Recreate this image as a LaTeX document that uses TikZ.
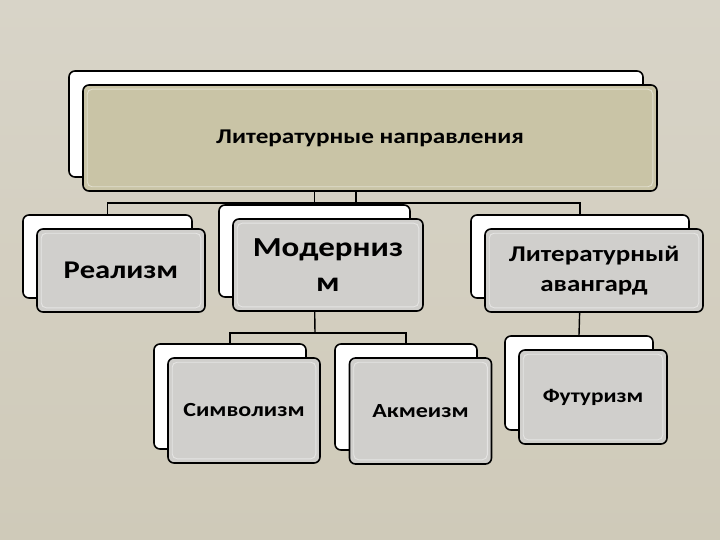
\documentclass[tikz,border=0pt]{standalone}
\usepackage{fontspec}
\usetikzlibrary{calc}
\newfontfamily\boxfont[FakeStretch=1.2]{Carlito}
\definecolor{bgtop}{HTML}{D8D4C8}
\definecolor{bgbot}{HTML}{CFCAB9}
\definecolor{topfill}{HTML}{C9C4A6}
\definecolor{boxfill}{HTML}{D0CFCC}
\tikzset{
  backbox/.style={draw=black, line width=1.6pt, fill=white, rounded corners=6pt, inner sep=0pt},
  frontbox/.style={draw=black, line width=1.6pt, fill=boxfill, rounded corners=6pt, inner sep=0pt,
    align=center, font=\boxfont\bfseries},
  topbox/.style={frontbox, fill=topfill},
  conn/.style={draw=black, line width=1.4pt},
  glow/.style={draw=white, draw opacity=0.45, line width=0.9pt, rounded corners=5pt},
  sz/.style 2 args={minimum width=#1, minimum height=#2}
}
\begin{document}
\begin{tikzpicture}[x=1pt,y=-1pt]
\shade[top color=bgtop, bottom color=bgbot] (0,0) rectangle (720,540);
\useasboundingbox (0,0) rectangle (720,540);
% back layer
\node[backbox, sz={574pt}{106pt}] (tb) at (356,124) {};
\node[backbox, sz={169pt}{83pt}] (rb) at (107.5,256.5) {};
\node[backbox, sz={191pt}{92pt}] (mb) at (314.5,251) {};
\node[backbox, sz={218pt}{83pt}] (ab) at (580,256.5) {};
\node[backbox, sz={152pt}{105pt}] (sb) at (230,396.5) {};
\node[backbox, sz={142pt}{106pt}] (kb) at (406,397) {};
\node[backbox, sz={148pt}{94pt}] (fb) at (579,383) {};
% connectors
\coordinate (h1) at (356,203);
\draw[conn] (tb.south) -- (h1);
\draw[conn] (rb.north) -- (rb.north |- h1) -- (ab.north |- h1) -- (ab.north);
\coordinate (h2) at (315,333);
\draw[conn] (mb.south) -- (h2);
\draw[conn] (sb.north) -- (sb.north |- h2) -- (kb.north |- h2) -- (kb.north);
\draw[conn] (ab.south) -- (fb.north);
% front layer
\node[topbox, sz={574pt}{106pt}, font=\boxfont\bfseries\fontsize{21}{25}\selectfont] (tf) at (370,138) {Литературные направления};
\node[frontbox, sz={168pt}{83pt}, font=\boxfont\bfseries\fontsize{25.5}{30}\selectfont] (rf) at (121,270.5) {Реализм};
\node[frontbox, sz={190pt}{92pt}, font=\boxfont\bfseries\fontsize{27.5}{35}\selectfont] (mf) at (328,265) {Модерниз\\м};
\node[frontbox, sz={218pt}{83pt}, font=\boxfont\bfseries\fontsize{22.5}{30}\selectfont] (af) at (594,270.5) {Литературный\\авангард};
\node[frontbox, sz={152pt}{105pt}, font=\boxfont\bfseries\fontsize{20}{24}\selectfont] (sf) at (244,410.5) {Символизм};
\node[frontbox, sz={142pt}{106pt}, font=\boxfont\bfseries\fontsize{20}{24}\selectfont] (kf) at (420.5,411) {Акмеизм};
\node[frontbox, sz={148pt}{94pt}, font=\boxfont\bfseries\fontsize{19.5}{24}\selectfont] (ff) at (593,397) {Футуризм};
% inner glow
\foreach \n in {tf,rf,mf,af,sf,kf,ff}
  \draw[glow] ($(\n.north west)+(5,5)$) rectangle ($(\n.south east)+(-5,-5)$);
% short connector pieces between top box and branch line
\draw[conn] (h1) -- (h1 |- tf.south);
\draw[conn] (mb.north) -- (mb.north |- tf.south);
\end{tikzpicture}
\end{document}
